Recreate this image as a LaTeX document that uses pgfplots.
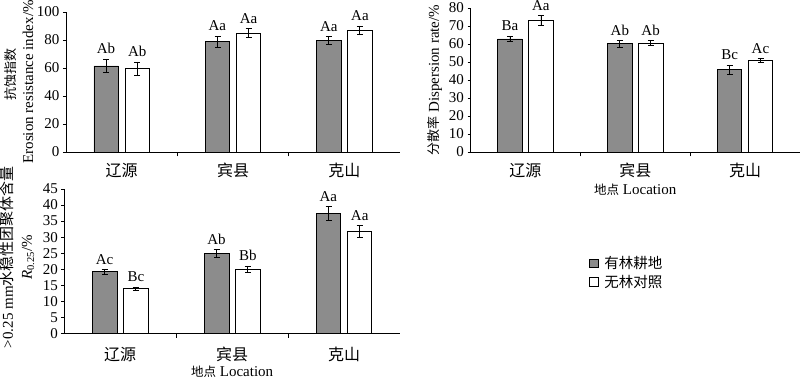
\documentclass[border=0pt]{standalone}
\usepackage{pgfplots}
\pgfplotsset{compat=1.18}
\usepackage{fontspec}
\setmainfont{Liberation Serif}
\newfontfamily\cjk{Noto Sans CJK SC}
\definecolor{barGray}{RGB}{140,140,140}
\tikzset{lab/.style={anchor=south, inner sep=0pt, yshift=5pt, font=\fontsize{15}{15}\selectfont}}
\pgfplotsset{
  panel/.style={
    scale only axis, anchor=south west, clip=false,
    axis lines=left, axis line style={-, line width=0.8pt},
    xmin=-0.5, xmax=2.5, ymin=0,
    xtick={0,1,2}, xticklabels={辽源,宾县,克山},
    major x tick style={draw=none},
    minor xtick={0.5,1.5}, minor tick length=4.5pt, major tick length=3pt,
    tick align=outside, tick style={line width=0.8pt, black},
    ybar=6.5pt, bar width=24.5pt,
    /pgf/number format/assume math mode=true,
    yticklabel style={font=\fontsize{15}{15}\selectfont},
    xticklabel style={font=\cjk\fontsize{16}{16}\selectfont, anchor=center},
    ylabel style={align=center, anchor=center, font=\fontsize{15}{17}\selectfont},
    xlabel style={anchor=center, font=\fontsize{15}{15}\selectfont},
  },
  dark/.style={fill=barGray, draw=black, line width=0.7pt,
    error bars/.cd, y dir=both, y explicit,
    error bar style={black, line width=0.7pt},
    error mark options={rotate=90, mark size=3pt, black, line width=0.7pt}},
  light/.style={fill=white, draw=black, line width=0.7pt,
    error bars/.cd, y dir=both, y explicit,
    error bar style={black, line width=0.7pt},
    error mark options={rotate=90, mark size=3pt, black, line width=0.7pt}},
}
\begin{document}
\begin{tikzpicture}
\path[use as bounding box] (0,0) rectangle (800pt,379pt);

% Top-left: erosion resistance index
\begin{axis}[panel, at={(66pt,227pt)}, width=334pt, height=140pt,
  ymax=100, ytick={0,20,40,60,80,100},
  xticklabel style={yshift=-15.5pt},
  ylabel={Erosion resistance index/\%},
  ylabel style={at={([xshift=-38pt]axis description cs:0,0.5)}},
]
\addplot[dark] coordinates {(0,61.5) +- (0,4.8) (1,78.8) +- (0,4.0) (2,79.5) +- (0,2.8)};
\addplot[light] coordinates {(0,59.5) +- (0,4.8) (1,85.0) +- (0,3.0) (2,86.9) +- (0,3.2)};
\node[rotate=90, anchor=center, font=\cjk\fontsize{13}{13}\selectfont]
  at ([xshift=-55pt]axis description cs:0,0.55) {抗蚀指数};
\node[lab] at (axis cs:-0.14,66.3) {Ab};
\node[lab] at (axis cs:0.14,64.3) {Ab};
\node[lab] at (axis cs:0.86,82.8) {Aa};
\node[lab] at (axis cs:1.14,88.0) {Aa};
\node[lab] at (axis cs:1.86,82.3) {Aa};
\node[lab] at (axis cs:2.14,90.1) {Aa};
\end{axis}

% Top-right: dispersion rate
\begin{axis}[panel, at={(470.5pt,227pt)}, width=329.5pt, height=144pt,
  ymax=80, ytick={0,10,...,80},
  xticklabel style={yshift=-15.5pt},
  ylabel={{\cjk\fontsize{13}{13}\selectfont 分散率} Dispersion rate/\%},
  ylabel style={at={([xshift=-35.5pt]axis description cs:0,0.5)}},
  xlabel={{\cjk\fontsize{12.5}{12.5}\selectfont 地点} Location},
  xlabel style={at={([yshift=-38pt]axis description cs:0.5,0)}},
]
\addplot[dark] coordinates {(0,62.8) +- (0,1.5) (1,60.1) +- (0,1.8) (2,45.9) +- (0,2.5)};
\addplot[light] coordinates {(0,72.9) +- (0,2.8) (1,60.4) +- (0,1.4) (2,50.9) +- (0,1.0)};
\node[lab] at (axis cs:-0.14,64.3) {Ba};
\node[lab] at (axis cs:0.14,75.7) {Aa};
\node[lab] at (axis cs:0.86,61.9) {Ab};
\node[lab] at (axis cs:1.14,61.8) {Ab};
\node[lab] at (axis cs:1.86,48.4) {Bc};
\node[lab] at (axis cs:2.14,51.9) {Ac};
\end{axis}

% Bottom-left: R0.25
\begin{axis}[panel, at={(64.3pt,45.7pt)}, width=335.7pt, height=144.3pt,
  ymax=45, ytick={0,5,...,45},
  xticklabel style={yshift=-18.5pt},
  ylabel={>0.25 mm{\cjk\fontsize{15}{15}\selectfont 水稳性团聚体含量}\\\textit{R}\textsubscript{0.25}/\%},
  ylabel style={at={([xshift=-47pt,yshift=4pt]axis description cs:0,0.5)}, font=\fontsize{15}{19}\selectfont},
  xlabel={{\cjk\fontsize{12.5}{12.5}\selectfont 地点} Location},
  xlabel style={at={([yshift=-38.5pt]axis description cs:0.5,0)}},
  legend style={at={(axis description cs:1.563,0.421)}, anchor=west, draw=none, fill=none,
    font=\cjk\fontsize{14.5}{16}\selectfont, row sep=1pt, inner sep=0pt,
    nodes={inner sep=2pt}},
  legend cell align=left,
  legend image code/.code={\draw[#1, line width=0.7pt] (0pt,-4.25pt) rectangle (8.5pt,4.25pt);},
]
\addplot[dark] coordinates {(0,19.2) +- (0,0.7) (1,24.9) +- (0,1.2) (2,37.3) +- (0,2.2)};
\addlegendentry{\hspace{4pt}有林耕地}
\addplot[light] coordinates {(0,13.9) +- (0,0.5) (1,20.0) +- (0,1.0) (2,31.8) +- (0,1.8)};
\addlegendentry{\hspace{4pt}无林对照}
\node[lab] at (axis cs:-0.14,19.9) {Ac};
\node[lab] at (axis cs:0.14,14.4) {Bc};
\node[lab] at (axis cs:0.86,26.1) {Ab};
\node[lab] at (axis cs:1.14,21.0) {Bb};
\node[lab] at (axis cs:1.86,39.5) {Aa};
\node[lab] at (axis cs:2.14,33.6) {Aa};
\end{axis}
\end{tikzpicture}
\end{document}
